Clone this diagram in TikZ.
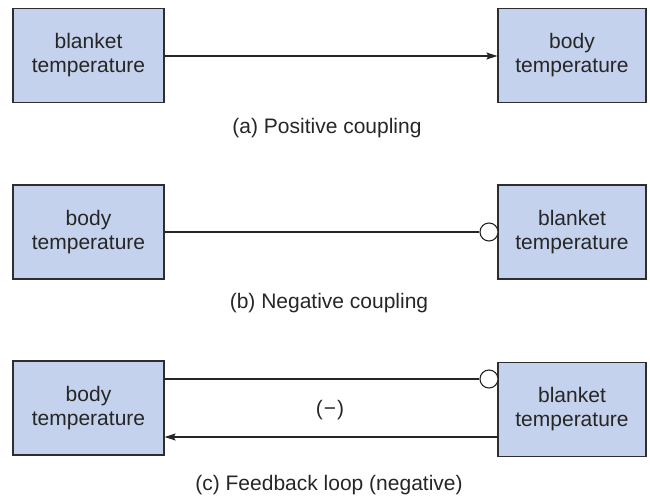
\documentclass[tikz,border=0pt]{standalone}
\usepackage{fontspec}
\setmainfont{Liberation Sans}
\usetikzlibrary{arrows.meta}
\definecolor{boxfill}{RGB}{197,210,237}
\definecolor{boxline}{RGB}{45,45,50}
\tikzset{
  varbox/.style={draw=boxline, line width=1.2pt, fill=boxfill, minimum width=151pt,
    minimum height=94pt, inner sep=0pt, align=center,
    font=\fontsize{21}{24}\selectfont, text=black!85},
  link/.style={draw=black!85, line width=1.1pt},
  tip/.style={-{Stealth[length=11pt,width=7pt,inset=2pt]}},
  knob/.style={circle, draw=black!85, line width=1.1pt, fill=white, minimum size=18pt, inner sep=0pt},
  caption/.style={font=\fontsize{21}{24}\selectfont, text=black!85},
  sign/.style={font=\fontsize{21}{24}\selectfont, text=black!85}
}
\begin{document}
\begin{tikzpicture}[x=1pt,y=-1pt]
  \useasboundingbox (0,0) rectangle (650,496);

  % (a) positive coupling
  \node[varbox] (a1) at (88.5,55.5) {blanket\\temperature};
  \node[varbox, minimum width=148pt] (a2) at (572,55.5) {body\\temperature};
  \draw[link, tip] (a1.east |- 0,56) -- (a2.west |- 0,56);
  \node[caption] (capa) at (327,128) {(a) Positive coupling};

  % (b) negative coupling
  \node[varbox] (b1) at (88.5,232) {body\\temperature};
  \node[varbox, minimum width=148pt] (b2) at (572,232) {blanket\\temperature};
  \node[knob] (bk) at (489,232) {};
  \draw[link] (b1.east |- bk.west) -- (bk.west);
  \node[caption] (capb) at (329,303) {(b) Negative coupling};

  % (c) feedback loop
  \node[varbox] (c1) at (88.5,408) {body\\temperature};
  \node[varbox, minimum width=148pt] (c2) at (572,409.5) {blanket\\temperature};
  \node[knob] (ck) at (489,379) {};
  \draw[link] (c1.east |- ck.west) -- (ck.west);
  \coordinate (cr) at (498,437);
  \draw[link, tip] (cr) -- (c1.east |- cr);
  \node[sign] (minus) at (330,410) {(\kern1pt−\kern1pt)};
  \node[caption] (capc) at (329,485) {(c) Feedback loop (negative)};
\end{tikzpicture}
\end{document}
